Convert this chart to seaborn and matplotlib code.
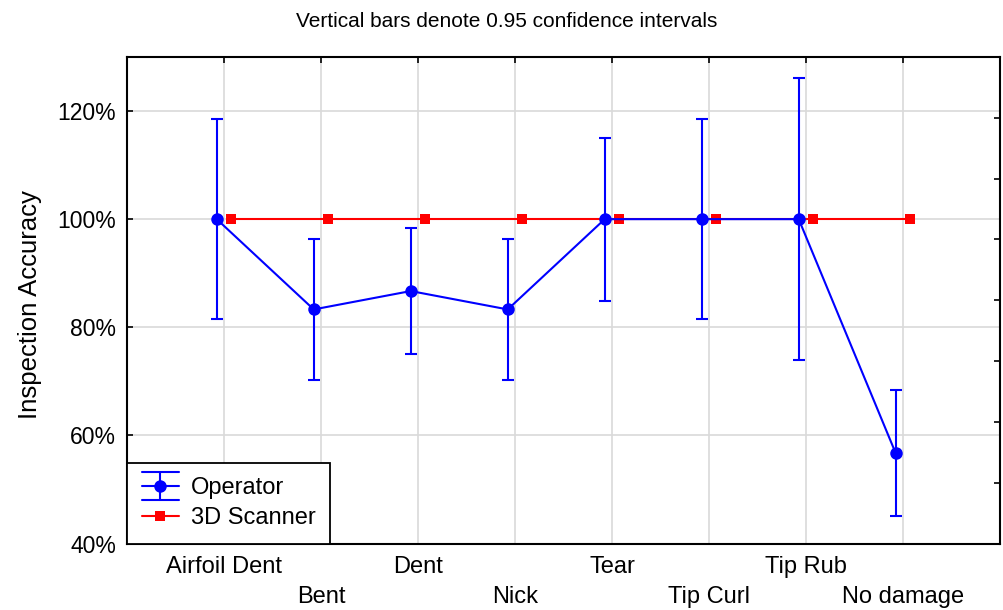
import numpy as np
import pandas as pd
import seaborn as sns
import matplotlib.pyplot as plt
from matplotlib.lines import Line2D
from matplotlib.legend_handler import HandlerBase

# data
categories = ["Airfoil Dent", "Bent", "Dent", "Nick", "Tear", "Tip Curl", "Tip Rub", "No damage"]
operator_mean = [100.0, 83.3, 86.7, 83.3, 100.0, 100.0, 100.0, 56.7]
operator_ci = [18.5, 13.1, 11.7, 13.1, 15.1, 18.5, 26.1, 11.7]
scanner_mean = [100.0, 100.0, 100.0, 100.0, 100.0, 100.0, 100.0, 100.0]

BLUE = "#0000ff"
RED = "#ff0000"


class ErrorHandle(HandlerBase):
    """Legend key like the original: wide caps, vertical bar, line and dot"""
    def create_artists(self, legend, orig_handle, xdescent, ydescent,
                       width, height, fontsize, trans):
        x0, x1 = -xdescent, -xdescent + width
        xm = (x0 + x1) / 2
        ym = -ydescent + height / 2
        h = height * 0.85
        arts = [
            Line2D([x0, x1], [ym + h, ym + h], color=BLUE, lw=1.5),
            Line2D([x0, x1], [ym - h, ym - h], color=BLUE, lw=1.5),
            Line2D([xm, xm], [ym - h, ym + h], color=BLUE, lw=1.5),
            Line2D([x0, x1], [ym, ym], color=BLUE, lw=1.5),
            Line2D([xm], [ym], color=BLUE, marker="o", markersize=9, markeredgewidth=0),
        ]
        for a in arts:
            a.set_transform(trans)
        return arts


sns.set_style("white")
plt.rcParams['font.family'] = ['Liberation Sans', 'DejaVu Sans']
plt.rcParams['text.color'] = 'black'

fig = plt.figure(figsize=(10.04, 6.10), dpi=100)
ax = fig.add_axes([0.1265, 0.109, 0.8695, 0.7976])

pos = np.arange(len(categories))
off = 0.075
df_op = pd.DataFrame({"x": pos - off, "y": operator_mean})
df_sc = pd.DataFrame({"x": pos + off, "y": scanner_mean})

# grid first
for p in pos:
    ax.axvline(p, color="#d9d9d9", lw=1.2, zorder=0)
for v in [60, 80, 100, 120]:
    ax.axhline(v, color="#d9d9d9", lw=1.2, zorder=0)

sns.lineplot(data=df_sc, x="x", y="y", ax=ax, color=RED, lw=1.5, marker="s",
             markersize=7, markeredgewidth=0, legend=False, zorder=3)
ax.errorbar(pos - off, operator_mean, yerr=operator_ci, fmt="none",
            ecolor=BLUE, elinewidth=1.5, capsize=4.5, capthick=1.5, zorder=4)
sns.lineplot(data=df_op, x="x", y="y", ax=ax, color=BLUE, lw=1.5, marker="o",
             markersize=9, markeredgewidth=0, legend=False, zorder=5)

ax.set_xlim(-1, 8)
ax.set_ylim(40, 130)
ax.set_xticks(pos)
ax.set_xticklabels([c if i % 2 == 0 else "\n" + c for i, c in enumerate(categories)],
                   fontsize=17, linespacing=1.45)
ax.set_yticks([40, 60, 80, 100, 120])
ax.set_yticklabels(["40%", "60%", "80%", "100%", "120%"], fontsize=16.5)
ax.set_xlabel("")
ax.set_ylabel("")
ax.tick_params(axis="x", direction="in", length=4, width=1.2, pad=9, top=True,
               colors="black", labelcolor="black")
ax.tick_params(axis="y", direction="in", length=4, width=1.2, pad=8,
               colors="black", labelcolor="black")
for s in ax.spines.values():
    s.set_color("black")
    s.set_linewidth(1.5)

# right-hand ticks of the original frame
ax2 = ax.twinx()
ax2.set_ylim(0, 8)
ax2.set_yticks(range(9))
ax2.set_yticklabels([])
ax2.tick_params(axis="y", direction="in", length=4, width=1.2, colors="black")
for s in ax2.spines.values():
    s.set_visible(False)

op_proxy = Line2D([], [], color=BLUE)
sc_proxy = Line2D([], [], color=RED, lw=1.5, marker="s", markersize=7, markeredgewidth=0)
leg = ax.legend([op_proxy, sc_proxy], ["Operator", "3D Scanner"],
                handler_map={op_proxy: ErrorHandle()},
                loc="lower left", borderaxespad=0, fontsize=17, fancybox=False,
                framealpha=1, edgecolor="black", handlelength=1.57, labelspacing=0.32,
                borderpad=0.62, handletextpad=0.5, labelcolor="black")
leg.get_frame().set_linewidth(1.3)
leg.set_zorder(10)

fig.text(0.03, 0.5, "Inspection Accuracy", rotation=90, ha="center", va="center",
         fontsize=18.5, color="black")
fig.text(0.505, 0.965, "Vertical bars denote 0.95 confidence intervals", ha="center",
         va="center", fontsize=15, color="black")

fig.savefig("out.png", dpi=100)
